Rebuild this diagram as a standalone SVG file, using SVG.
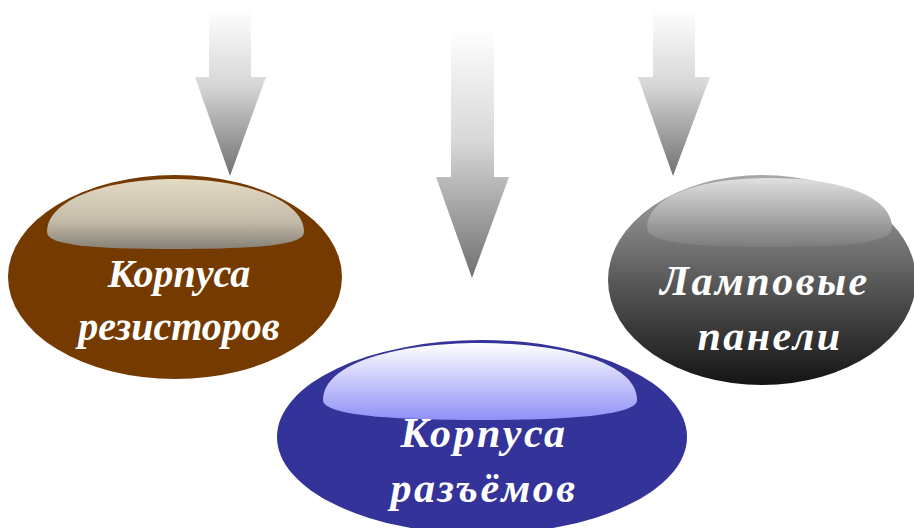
<svg xmlns="http://www.w3.org/2000/svg" width="914" height="528" viewBox="0 0 914 528">
<defs>
<linearGradient id="arr" x1="0" y1="0" x2="0" y2="1">
<stop offset="0" stop-color="#ffffff"/>
<stop offset="0.45" stop-color="#d8d8d8"/>
<stop offset="1" stop-color="#707070"/>
</linearGradient>
<linearGradient id="hlBrown" x1="0" y1="0" x2="0" y2="1">
<stop offset="0" stop-color="#e3dac3"/>
<stop offset="0.6" stop-color="#c4bcaa"/>
<stop offset="1" stop-color="#868076"/>
</linearGradient>
<linearGradient id="hlBlue" x1="0" y1="0" x2="0" y2="1">
<stop offset="0" stop-color="#ffffff"/>
<stop offset="1" stop-color="#9090f8"/>
</linearGradient>
<linearGradient id="hlGray" x1="0" y1="0" x2="0" y2="1">
<stop offset="0" stop-color="#e0e0e0"/>
<stop offset="1" stop-color="#7c7c7c"/>
</linearGradient>
<linearGradient id="gray" x1="0" y1="0" x2="0" y2="1">
<stop offset="0" stop-color="#a8a8a8"/>
<stop offset="0.5" stop-color="#5a5a5a"/>
<stop offset="1" stop-color="#141414"/>
</linearGradient>
</defs>
<style>
.lbl{font-family:"Liberation Serif","Times New Roman",serif;font-weight:bold;font-style:italic;font-size:40px;fill:#ffffff;text-anchor:middle}
.big{font-size:42px;letter-spacing:2.5px}
</style>
<g id="connectors">
<path d="M209,8 H251 V77 H266 L230,176 L195,77 H209 Z" fill="url(#arr)"/>
<path d="M451,28 H494 V177 H509 L472,278 L436,177 H451 Z" fill="url(#arr)"/>
<path d="M653,8 H695 V77 H710 L673,176 L638,77 H653 Z" fill="url(#arr)"/>
</g>
<g id="node-resistors">
<ellipse cx="175" cy="277" rx="167" ry="102" fill="#753a00"/>
<path d="M47,232 C47,198 110,179 175,179 C240,179 304,198 304,232 C304,245 260,249 175,249 C90,249 47,245 47,232 Z" fill="url(#hlBrown)"/>
<text class="lbl" x="179" y="287">Корпуса</text>
<text class="lbl" x="179" y="340">резисторов</text>
</g>
<g id="node-lamps">
<ellipse cx="762" cy="280" rx="154" ry="105" fill="url(#gray)"/>
<path d="M647,228 C647,196 700,178 770,178 C840,178 892,196 892,228 C892,242 850,247 770,247 C690,247 647,242 647,228 Z" fill="url(#hlGray)"/>
<text class="lbl big" x="765" y="295">Ламповые</text>
<text class="lbl big" x="770" y="350">панели</text>
</g>
<g id="node-connectors">
<ellipse cx="482" cy="437" rx="205" ry="97" fill="#333399"/>
<path d="M323,400 C323,362 400,343 480,343 C560,343 637,362 637,400 C637,414 580,420 480,420 C380,420 323,414 323,400 Z" fill="url(#hlBlue)"/>
<text class="lbl big" x="484" y="447">Корпуса</text>
<text class="lbl big" x="484" y="502">разъёмов</text>
</g>
</svg>
